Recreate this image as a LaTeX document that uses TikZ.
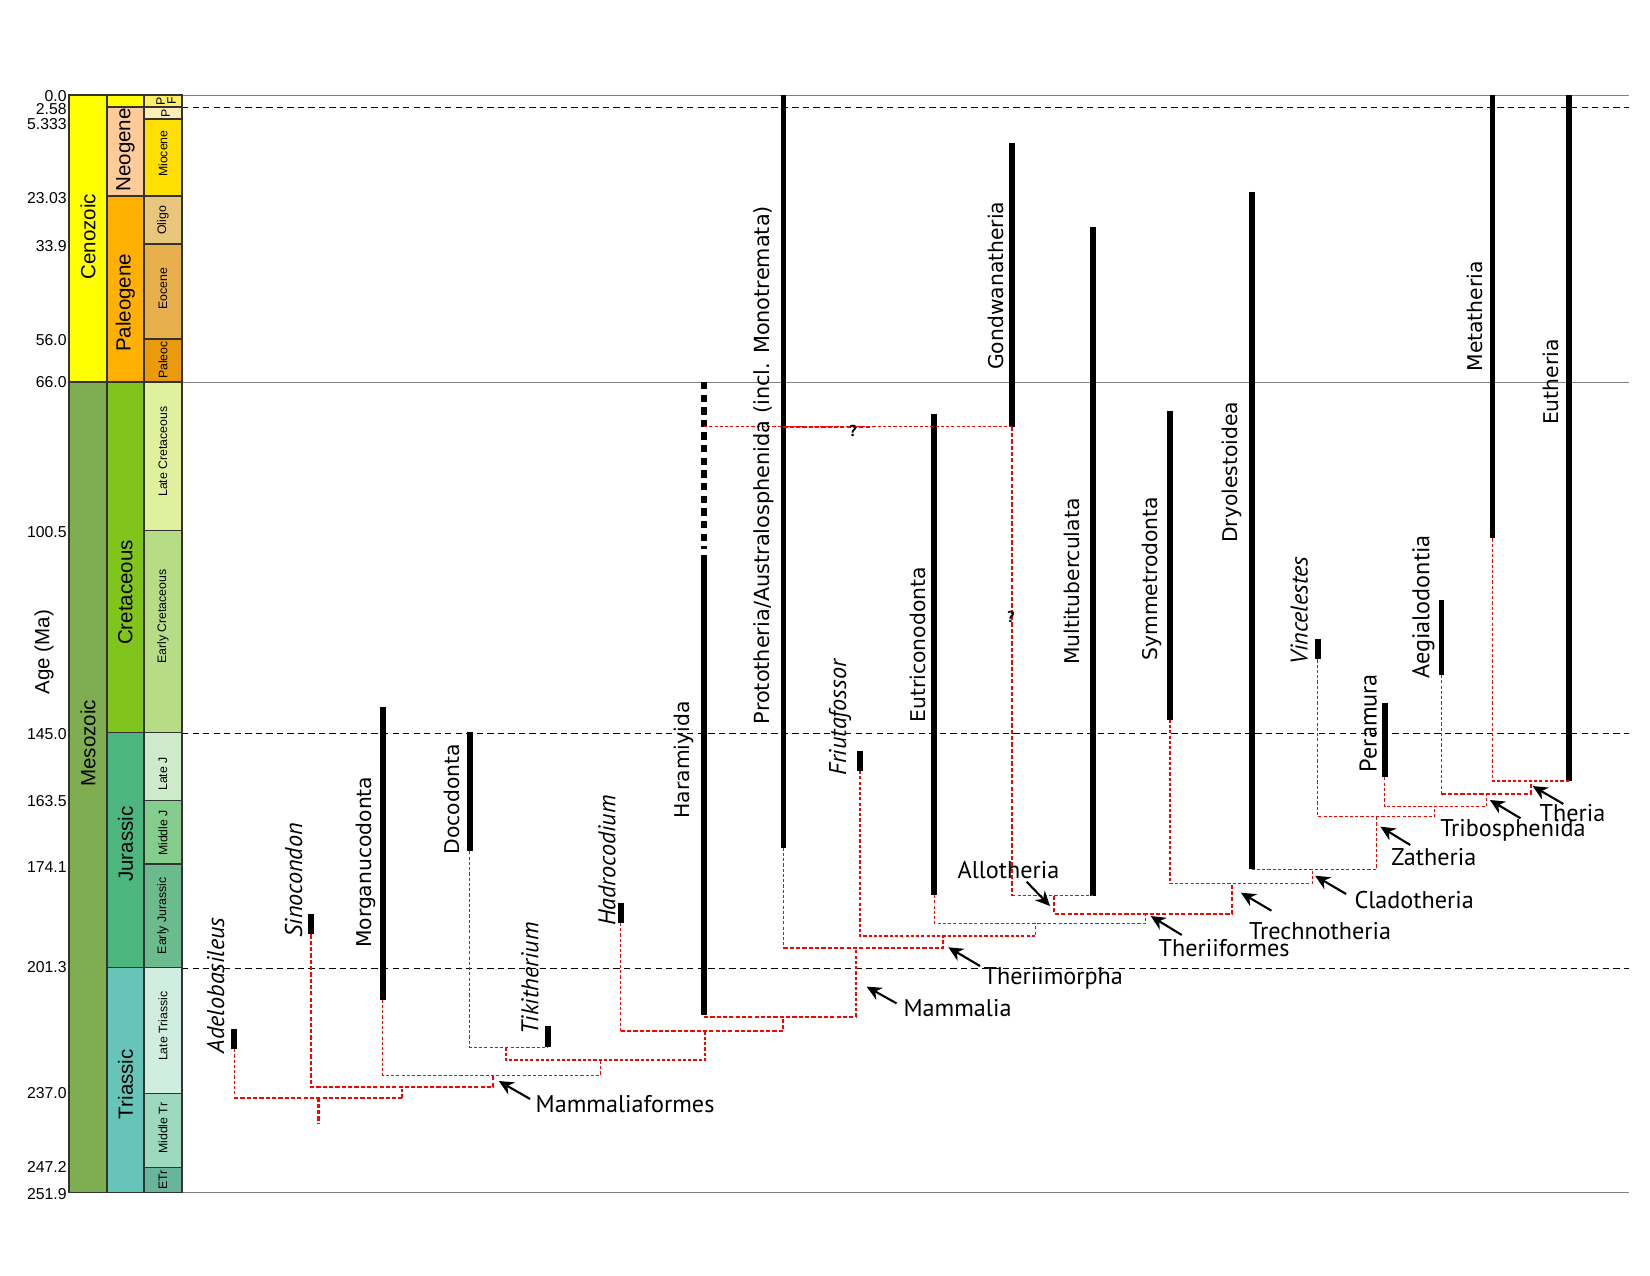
\documentclass[tikz,border=0pt]{standalone}
\usepackage{fontspec}
\setmainfont{Liberation Sans}
\newfontfamily\vfont{DejaVu Sans}
\newfontfamily\mfont{PT Sans}
\usepackage{xcolor}
\usetikzlibrary{arrows.meta}

\definecolor{cenoz}{HTML}{FFFF00}
\definecolor{mesoz}{HTML}{7FAE52}
\definecolor{neog}{HTML}{FFCC99}
\definecolor{paleog}{HTML}{FFB000}
\definecolor{cret}{HTML}{80C41C}
\definecolor{jura}{HTML}{4CB580}
\definecolor{tria}{HTML}{66C4B8}
\definecolor{pfep}{HTML}{FFEE66}
\definecolor{plio}{HTML}{FFEDB5}
\definecolor{mioc}{HTML}{FFE000}
\definecolor{olig}{HTML}{E8C77D}
\definecolor{eoc}{HTML}{E8B04C}
\definecolor{paleoc}{HTML}{EB9A0C}
\definecolor{lcret}{HTML}{E1F09D}
\definecolor{ecret}{HTML}{B6DD85}
\definecolor{ljur}{HTML}{CDEBC8}
\definecolor{mjur}{HTML}{84CD8C}
\definecolor{ejur}{HTML}{6CBB8E}
\definecolor{ltri}{HTML}{CFEDE0}
\definecolor{mtri}{HTML}{9CD9BF}
\definecolor{etri}{HTML}{69B59B}

\begin{document}
\begin{tikzpicture}[x=1pt, y=-1pt,
    agebox/.style={draw=black!80, line width=1.3pt},
    agenum/.style={anchor=east, inner sep=0pt, font=\fontsize{15}{16}\selectfont},
    unitlab/.style={rotate=90, inner sep=0pt, font=\fontsize{19.5}{20}\selectfont},
    subunit/.style={rotate=90, inner sep=0pt, font=\fontsize{11.7}{12}\selectfont},
    tbar/.style={line width=5.5pt},
    treeline/.style={red, dash pattern=on 3pt off 2pt, line width=1.1pt},
    treebold/.style={red, dash pattern=on 4pt off 2pt, line width=2pt},
    taxon/.style={rotate=90, anchor=west, inner sep=0pt, font=\vfont\fontsize{19.3}{20}\selectfont},
    taxonm/.style={rotate=90, anchor=west, inner sep=0pt, font=\mfont\fontsize{23}{24}\selectfont},
    genus/.style={rotate=90, anchor=west, inner sep=0pt, font=\mfont\itshape\fontsize{23}{24}\selectfont},
    clade/.style={anchor=west, inner sep=0pt, font=\mfont\fontsize{23}{24}\selectfont},
    qmark/.style={inner sep=0pt, font=\mfont\bfseries\fontsize{15}{16}\selectfont},
    pointer/.style={-{Stealth[length=14pt, width=13pt]}, line width=2pt},
    stagesep/.style={dash pattern=on 6pt off 4pt, line width=0.8pt},
    spanline/.style={gray, line width=0.9pt}]

\useasboundingbox (0,0) rectangle (1568,1212);

% time lines
\draw[spanline] (173,90.3) -- (1548,90.3);
\draw[spanline] (173,363) -- (1548,363);
\draw[spanline] (173,1133) -- (1548,1133);
\draw[stagesep] (173,101.7) -- (1548,101.7);
\draw[stagesep] (173,697) -- (1548,697);
\draw[stagesep] (173,920) -- (1548,920);

% eras
\filldraw[agebox, fill=cenoz] (65.6,90.3) rectangle (101.7,363);
\filldraw[agebox, fill=mesoz] (65.6,363) rectangle (101.7,1133);
% periods
\filldraw[agebox, fill=cenoz] (101.7,90.3) rectangle (136.8,101.7);
\filldraw[agebox, fill=neog] (101.7,101.7) rectangle (136.8,186.3);
\filldraw[agebox, fill=paleog] (101.7,186.3) rectangle (136.8,363);
\filldraw[agebox, fill=cret] (101.7,363) rectangle (136.8,696.3);
\filldraw[agebox, fill=jura] (101.7,696.3) rectangle (136.8,919.6);
\filldraw[agebox, fill=tria] (101.7,919.6) rectangle (136.8,1133);
% epochs
\filldraw[agebox, fill=pfep] (136.8,90.3) rectangle (173,101.7);
\filldraw[agebox, fill=plio] (136.8,101.7) rectangle (173,113);
\filldraw[agebox, fill=mioc] (136.8,113) rectangle (173,186.3);
\filldraw[agebox, fill=olig] (136.8,186.3) rectangle (173,231.9);
\filldraw[agebox, fill=eoc] (136.8,231.9) rectangle (173,322);
\filldraw[agebox, fill=paleoc] (136.8,322) rectangle (173,363);
\filldraw[agebox, fill=lcret] (136.8,363) rectangle (173,504.3);
\filldraw[agebox, fill=ecret] (136.8,504.3) rectangle (173,696.3);
\filldraw[agebox, fill=ljur] (136.8,696.3) rectangle (173,760.9);
\filldraw[agebox, fill=mjur] (136.8,760.9) rectangle (173,821);
\filldraw[agebox, fill=ejur] (136.8,821) rectangle (173,919.6);
\filldraw[agebox, fill=ltri] (136.8,919.6) rectangle (173,1039);
\filldraw[agebox, fill=mtri] (136.8,1039) rectangle (173,1109.6);
\filldraw[agebox, fill=etri] (136.8,1109.6) rectangle (173,1133);

\node[unitlab] (ceno) at (83.6,224.8) {Cenozoic};
\node[unitlab] (meso) at (83.6,706.4) {Mesozoic};
\node[unitlab] (neo) at (119.2,142.5) {Neogene};
\node[unitlab] (paleo) at (119.2,287.8) {Paleogene};
\node[unitlab] (creta) at (119.2,563) {Cretaceous};
\node[unitlab] (juras) at (119.2,802.2) {Jurassic};
\node[unitlab] (trias) at (119.2,1030.3) {Triassic};
\node[unitlab] (agelab) at (41.8,619.6) {Age (Ma)};

\node[subunit] (pfa) at (152.7,96) {P};
\node[subunit] (pfb) at (163,96) {F};
\node[subunit] (pli) at (157.5,107.4) {P};
\node[subunit] (mio) at (154.9,146) {Miocene};
\node[subunit] (oli) at (154.9,209.4) {Oligo};
\node[subunit] (eo) at (154.9,274.5) {Eocene};
\node[subunit] (pal) at (154.9,342.1) {Paleoc};
\node[subunit] (lcr) at (154.9,429.2) {Late Cretaceous};
\node[subunit] (ecr) at (154.9,586) {Early Cretaceous};
\node[subunit] (lj) at (154.9,735.5) {Late J};
\node[subunit] (mj) at (154.9,791.6) {Middle J};
\node[subunit] (ej) at (154.9,870.3) {Early Jurassic};
\node[subunit] (ltr) at (154.9,975.2) {Late Triassic};
\node[subunit] (mtr) at (154.9,1072.2) {Middle Tr};
\node[subunit] (etr) at (154.9,1121) {ETr};

% ages
\node[agenum] (a0) at (63.5,91.5) {0.0};
\node[agenum] (a1) at (63.5,103.5) {2.58};
\node[agenum] (a2) at (63.5,118) {5.333};
\node[agenum] (a3) at (63.5,188.5) {23.03};
\node[agenum] (a4) at (63.5,233.5) {33.9};
\node[agenum] (a5) at (63.5,323) {56.0};
\node[agenum] (a6) at (63.5,362.7) {66.0};
\node[agenum] (a7) at (63.5,505.2) {100.5};
\node[agenum] (a8) at (63.5,697.8) {145.0};
\node[agenum] (a9) at (63.5,760.9) {163.5};
\node[agenum] (a10) at (63.5,823.6) {174.1};
\node[agenum] (a11) at (63.5,918.6) {201.3};
\node[agenum] (a12) at (63.5,1039) {237.0};
\node[agenum] (a13) at (63.5,1108.7) {247.2};
\node[agenum] (a14) at (63.5,1135) {251.9};

% ranges
\draw[tbar] (222.5,978) -- (222.5,997) coordinate (adeloB);
\draw[tbar] (295.4,869) -- (295.4,888) coordinate (sinoB);
\draw[tbar] (363.8,672) -- (363.8,950) coordinate (morgB);
\draw[tbar] (446.5,696) -- (446.5,809) coordinate (docoB);
\draw[tbar] (520.7,975) -- (520.7,995.3) coordinate (tikiB);
\draw[tbar] (590,858) -- (590,877) coordinate (hadroB);
\draw[tbar, dash pattern=on 7pt off 5pt] (669,363) -- (669,522);
\draw[tbar] (669,527.5) -- (669,965) coordinate (haramB);
\draw[tbar] (744.5,90.3) -- (744.5,805.5) coordinate (protoB);
\draw[tbar] (817.3,713.6) -- (817.3,732.7) coordinate (friuB);
\draw[tbar] (887.9,393) -- (887.9,850.5) coordinate (eutriB);
\draw[tbar] (962,136.2) -- (962,405.5) coordinate (gondB);
\draw[tbar] (1038.5,215.4) -- (1038.5,851) coordinate (multiB);
\draw[tbar] (1111.8,391) -- (1111.8,684) coordinate (symmB);
\draw[tbar] (1189.4,182) -- (1189.4,826) coordinate (dryoB);
\draw[tbar] (1252.2,607.5) -- (1252.2,626.6) coordinate (vincB);
\draw[tbar] (1315.8,668.4) -- (1315.8,738.7) coordinate (peraB);
\draw[tbar] (1369.8,570.2) -- (1369.8,641.5) coordinate (aegiB);
\draw[tbar] (1418.4,90.3) -- (1418.4,511.6) coordinate (metaB);
\draw[tbar] (1491,90.3) -- (1491,742.2) coordinate (euthB);

% tree nodes
\coordinate (nRoot) at (302.7,1043);
\coordinate (nSino) at (382,1032.7);
\coordinate (nMamf) at (468.7,1022.2);
\coordinate (nMorg) at (570.5,1007.3);
\coordinate (nDoco) at (480.9,995.3);
\coordinate (nHadro) at (669.9,979.8);
\coordinate (nHaram) at (744.4,966.1);
\coordinate (nMamm) at (813.5,901.2);
\coordinate (nThm) at (896.4,889.5);
\coordinate (nEutri) at (984.2,877.5);
\coordinate (nThf) at (1088.7,868.3);
\coordinate (nAllo) at (1001.8,851);
\coordinate (nTrech) at (1170.8,839.4);
\coordinate (nClado) at (1247.5,826);
\coordinate (nZath) at (1307.9,776);
\coordinate (nPera) at (1363.4,766.6);
\coordinate (nTribo) at (1412.6,754.5);
\coordinate (nTheria) at (1454.5,742.2);
\coordinate (haramQ) at (669,405.5);

% tree
\draw[treeline] (adeloB) -- (adeloB |- nRoot);
\draw[treebold] (adeloB |- nRoot) -- (nSino |- nRoot);
\draw[treeline] (nSino |- nRoot) -- (nSino);
\draw[treebold] (nRoot) -- ++(0,24.5);
\draw[treebold] (sinoB) |- (nSino) -| (nMamf);
\draw[treeline] (morgB) |- (nMamf) -| (nMorg);
\draw[treeline] (nDoco) |- (nMorg) -| (nHadro);
\draw[treeline] (docoB) |- (nDoco) -| (tikiB);
\draw[treeline] (hadroB) -- (hadroB |- nHadro);
\draw[treebold] (hadroB |- nHadro) -| (nHaram);
\draw[treebold] (haramB |- nHaram) -- (nMamm |- nHaram);
\draw[treeline] (nMamm |- nHaram) -- (nMamm);
\draw[treeline] (protoB) -- (protoB |- nMamm);
\draw[treebold] (protoB |- nMamm) -| (nThm);
\draw[treeline] (friuB) |- (nThm) -| (nEutri);
\draw[treeline] (eutriB) |- (nEutri) -| (nThf);
\draw[treebold] (nAllo) |- (nThf) -| (nTrech);
\draw[treebold] (gondB) -- (gondB |- nAllo);
\draw[treeline] (gondB |- nAllo) -| (multiB);
\draw[treeline] (symmB) |- (nTrech) -| (nClado);
\draw[treeline] (dryoB) |- (nClado) -| (nZath);
\draw[treeline] (vincB) |- (nZath) -| (nPera);
\draw[treeline] (peraB) |- (nPera) -| (nTribo);
\draw[treeline] (aegiB) -- (aegiB |- nTribo);
\draw[treebold] (aegiB |- nTribo) -| (nTheria);
\draw[treeline] (metaB) |- (nTheria) -| (euthB);
\draw[treeline] (haramQ) -- (gondB);
\draw[treebold] (protoB |- haramQ) -- ++(84,0);
\node[qmark] (q1) at (810.8,410) {?};
\node[qmark] (q2) at (960.8,586.6) {?};

% taxa
\node[genus] (adeloL) at (205,1001) {Adelobasileus};
\node[genus] (sinoL) at (279,891) {Sinocondon};
\node[taxon] (morgL) at (348,901) {Morganucodonta};
\node[taxon] (docoL) at (429,812) {Docodonta};
\node[genus] (tikiL) at (503.6,983) {Tikitherium};
\node[genus] (hadroL) at (576.7,880) {Hadrocodium};
\node[taxon] (haramL) at (649.6,778) {Haramiyida};
\node[taxon, font=\vfont\fontsize{19.8}{20}\selectfont] (protoL) at (725.5,688.4) {Prototheria/Australosphenida (incl. Monotremata)};
\node[genus] (friuL) at (798.3,737.5) {Friutafossor};
\node[taxon] (eutriL) at (872.7,686.6) {Eutriconodonta};
\node[taxon] (gondL) at (946,351.6) {Gondwanatheria};
\node[taxon] (multiL) at (1019,632) {Multituberculata};
\node[taxon] (symmL) at (1095,628) {Symmetrodonta};
\node[taxon] (dryoL) at (1171,516) {Dryolestoidea};
\node[genus] (vincL) at (1234.7,632) {Vincelestes};
\node[taxonm] (peraL) at (1300.3,734) {Peramura};
\node[taxonm] (aegiL) at (1352.6,645) {Aegialodontia};
\node[taxon] (metaL) at (1401.4,353.2) {Metatheria};
\node[taxon] (euthL) at (1474,404) {Eutheria};

% clades
\node[clade] (mamf) at (508.8,1049) {Mammaliaformes};
\node[clade] (mamm) at (858.4,958) {Mammalia};
\node[clade] (thm) at (934.5,929.7) {Theriimorpha};
\node[clade] (allo) at (909.8,826.7) {Allotheria};
\node[clade] (thf) at (1100.8,901.2) {Theriiformes};
\node[clade] (trech) at (1186.9,884.4) {Trechnotheria};
\node[clade] (clado) at (1287,855.3) {Cladotheria};
\node[clade] (zath) at (1321.9,814.1) {Zatheria};
\node[clade] (tribo) at (1368.5,788.8) {Tribosphenida};
\node[clade] (theria) at (1463,773) {Theria};

\coordinate (tMamf) at (474,1027.3);
\coordinate (tMamm) at (823.6,937.6);
\coordinate (tThm) at (901.2,900.2);
\coordinate (tAllo) at (997.8,861);
\coordinate (tThf) at (1093.5,870.5);
\coordinate (tTrech) at (1179.2,848.3);
\coordinate (tClado) at (1249.7,832.2);
\coordinate (tZath) at (1311.8,785.6);
\coordinate (tTribo) at (1415.8,760.2);
\coordinate (tTheria) at (1456.5,747);

\draw[pointer] ([shift={(-5,-4.6)}]mamf.west) -- (tMamf);
\draw[pointer] ([shift={(-6.4,-4.5)}]mamm.west) -- (tMamm);
\draw[pointer] ([shift={(-3.2,-11.7)}]thm.west) -- (tThm);
\draw[pointer] ([shift={(65.8,11.2)}]allo.west) -- (tAllo);
\draw[pointer] ([shift={(22.2,-12.7)}]thf.west) -- (tThf);
\draw[pointer] ([shift={(21.3,-19)}]trech.west) -- (tTrech);
\draw[pointer] ([shift={(-7.8,-5.7)}]clado.west) -- (tClado);
\draw[pointer] ([shift={(18.2,-11.1)}]zath.west) -- (tZath);
\draw[pointer] ([shift={(76.4,-11.2)}]tribo.west) -- (tTribo);
\draw[pointer] ([shift={(22.6,-9)}]theria.west) -- (tTheria);
\end{tikzpicture}
\end{document}
